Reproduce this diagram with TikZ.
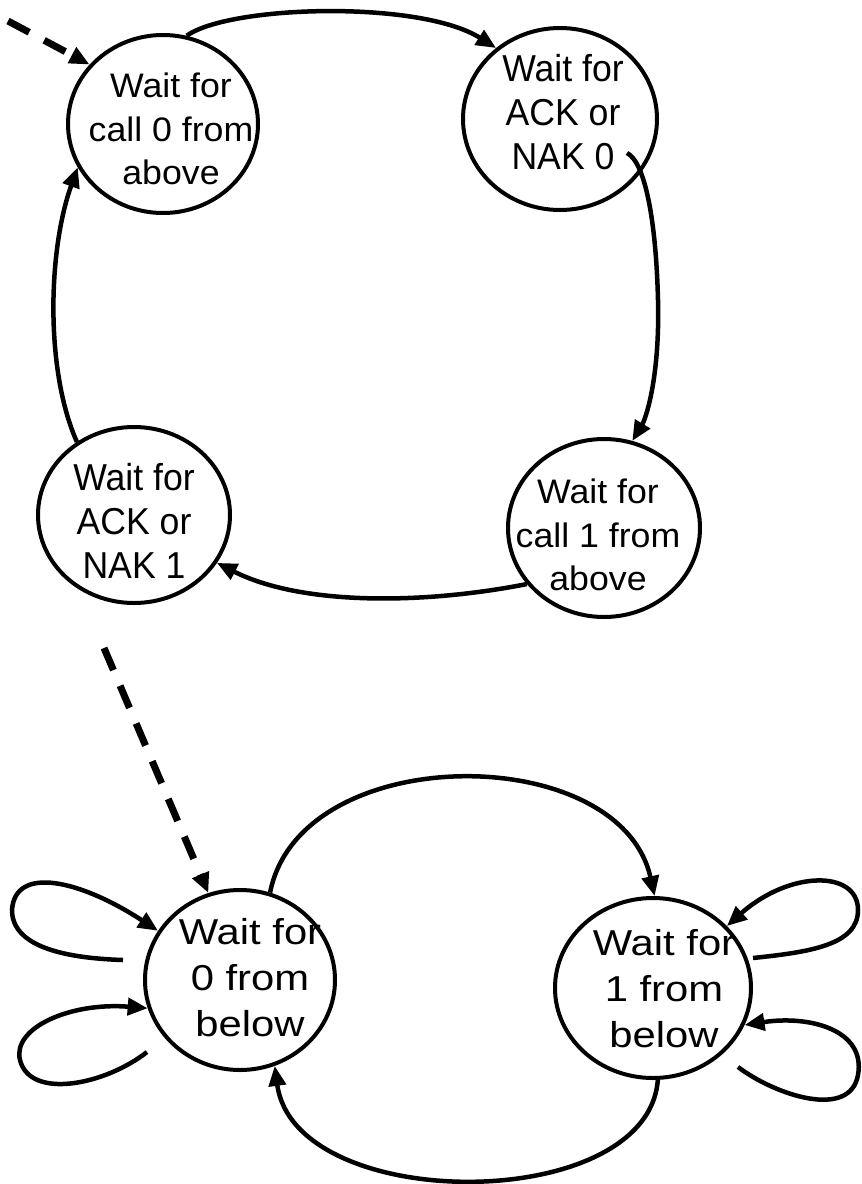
\documentclass[tikz,border=0pt]{standalone}
\usepackage{fontspec}
\setmainfont{Liberation Sans}
\usetikzlibrary{arrows.meta,shapes.geometric}
\begin{document}
\begin{tikzpicture}[x=1pt,y=-1pt,
  state/.style={draw,ellipse,line width=4pt,inner sep=0pt,
    minimum width=192pt,minimum height=178pt},
  statetext/.style={align=center,inner sep=0pt},
  flattext/.style={statetext,font=\fontsize{34}{43.5}\selectfont,xscale=1.05},
  talltext/.style={statetext,font=\fontsize{37.5}{44}\selectfont,xscale=0.95},
  widetext/.style={statetext,font=\fontsize{36}{46}\selectfont,xscale=1.16},
  link/.style={line width=4.5pt,-{Triangle[length=20pt,width=17pt]}},
  initlink/.style={link,line width=7pt,dash pattern=on 24pt off 17pt},
]
\useasboundingbox (0,0) rectangle (862,1184);

% sender states
\node[state,minimum width=190pt] (a0) at (163,124) {};
\node[state,minimum width=194pt,minimum height=182pt] (b0) at (560,119) {};
\node[state] (a1) at (604,528) {};
\node[state,minimum height=176pt] (b1) at (134,515) {};
\node[flattext] (ta0) at (171,129) {Wait for\\call 0 from\\above};
\node[talltext] (tb0) at (563,112) {Wait for\\ACK or\\NAK 0};
\node[flattext] (ta1) at (598,535) {Wait for\\call 1 from\\above};
\node[talltext] (tb1) at (134,521) {Wait for\\ACK or\\NAK 1};

% receiver states
\node[state,minimum width=190pt,minimum height=180pt] (r0) at (240,980) {};
\node[state,minimum width=196pt,minimum height=180pt] (r1) at (653,988) {};
\node[widetext] (tr0) at (250,978) {Wait for\\0 from\\below};
\node[widetext] (tr1) at (664,989) {Wait for\\1 from\\below};

% free ends
\coordinate (init0) at (8,21);
\coordinate (init1) at (104,648);
\coordinate (n0) at (627,153);
\coordinate (p0) at (123,960);
\coordinate (p1) at (147,1052);
\coordinate (p2) at (753,958);
\coordinate (p3) at (738,1067);

% sender transitions
\draw[initlink] (init0) -- (a0.141);
\draw[link] (a0.75) .. controls (230,5) and (420,0) .. (b0.132);
\draw[link] (n0) .. controls (645,162) and (656,220) .. (658,300)
  .. controls (660,380) and (645,420) .. (a1.72);
\draw[link] (a1.216) .. controls (420,605) and (300,605) .. (b1.330);
\draw[link] (b1.128) .. controls (45,370) and (48,250) .. (a0.207);

% receiver transitions
\draw[initlink] (init1) -- (r0.110);
\draw[link] (r0.71) .. controls (300,740) and (620,740) .. (r1.89);
\draw[link] (r1.273) .. controls (648,1215) and (295,1215) .. (r0.292);
\draw[link] (p0) .. controls (60,958) and (12,945) .. (12,910)
  .. controls (15,865) and (80,880) .. (r0.149);
\draw[link] (p1) .. controls (105,1085) and (30,1100) .. (20,1060)
  .. controls (12,1028) and (70,1002) .. (r0.197);
\draw[link] (p2) .. controls (810,952) and (858,945) .. (858,910)
  .. controls (858,870) and (790,870) .. (r1.40);
\draw[link] (p3) .. controls (775,1095) and (850,1120) .. (858,1075)
  .. controls (866,1030) and (810,1015) .. (r1.338);
\end{tikzpicture}
\end{document}
